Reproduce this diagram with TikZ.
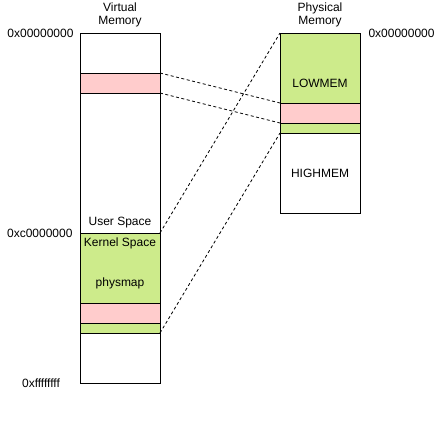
\documentclass[tikz,border=0pt]{standalone}
\usepackage{fontspec}
\setmainfont{Liberation Sans}
\usepackage{tikz}
\definecolor{MemGreen}{HTML}{CDEB8B}
\definecolor{MemPink}{HTML}{FFCCCC}

\begin{document}
\begin{tikzpicture}[x=1pt,y=-1pt,line width=1pt,
  band/.style={draw=black,anchor=north west,inner sep=0pt,outer sep=0pt,minimum width=80pt},
  lbl/.style={text=black,inner sep=1pt,font=\fontsize{12}{12.5}\selectfont},
  link/.style={draw=black,line width=.8pt,dash pattern=on 3pt off 2.5pt}]
\fill[white] (0,0) rectangle (441,432);
\node[band,fill=white,minimum height=350pt] (vbox) at (80,33) {};
\node[band,fill=MemPink,minimum height=20pt] (vpinkA) at (80,73) {};
\node[band,fill=MemGreen,minimum height=100pt] (vkernel) at (80,233) {};
\node[band,fill=MemPink,minimum height=20pt] (vpinkB) at (80,303) {};
\node[band,fill=MemGreen,minimum height=100pt] (plow) at (280,33) {};
\node[band,fill=MemPink,minimum height=20pt] (ppink) at (280,103) {};
\node[band,fill=white,minimum height=80pt] (phigh) at (280,133) {};
\draw[link] (vpinkA.north east) -- (ppink.north west);
\draw[link] (vpinkA.south east) -- (ppink.south west);
\draw[link] (vkernel.north east) -- (plow.north west);
\draw[link] (vkernel.south east) -- (plow.south west);
\node[lbl,align=center] (vtitle) at (120,15) {Virtual\\Memory};
\node[lbl,align=center] (ptitle) at (320,15) {Physical\\Memory};
\node[lbl,anchor=east] (vzero) at (75,33) {0x00000000};
\node[lbl,anchor=west] (pzero) at (367,33) {0x00000000};
\node[lbl,anchor=east] (vsplit) at (74,233) {0xc0000000};
\node[lbl] (vend) at (41,383) {0xffffffff};
\node[lbl] (user) at (120,223) {User Space};
\node[lbl] (kernel) at (120,243) {Kernel Space};
\node[lbl] (physmap) at (120,283) {physmap};
\node[lbl] (lowmem) at (320,83) {LOWMEM};
\node[lbl] (highmem) at (320,173) {HIGHMEM};
\end{tikzpicture}
\end{document}
